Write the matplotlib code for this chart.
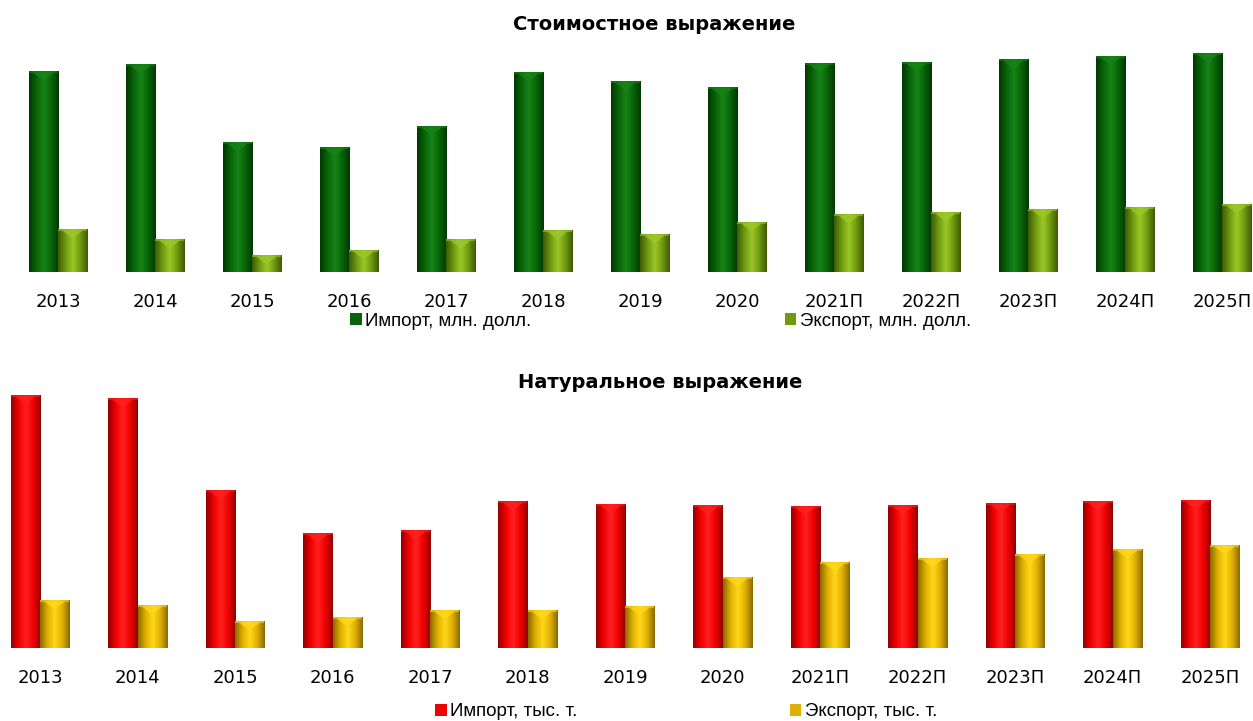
import numpy as np
import matplotlib
matplotlib.use("Agg")
import matplotlib.pyplot as plt
from matplotlib.colors import LinearSegmentedColormap
from matplotlib.patches import Polygon

years = ["2013", "2014", "2015", "2016", "2017", "2018", "2019", "2020",
         "2021П", "2022П", "2023П", "2024П", "2025П"]

# value terms, mln USD (relative scale)
import_value = [201, 208, 130, 125, 146, 200, 191, 185, 209, 210, 213, 216, 219]
export_value = [43, 33, 17, 22, 33, 42, 38, 50, 58, 60, 63, 65, 68]

# physical terms, thousand tonnes (relative scale)
import_volume = [253, 250, 158, 115, 118, 147, 144, 143, 142, 143, 145, 147, 148]
export_volume = [48, 43, 27, 31, 38, 38, 42, 71, 86, 90, 94, 99, 103]

W, H = 1253, 721
fig = plt.figure(figsize=(W / 100, H / 100), dpi=100)

TICK_FONT = ["DejaVu Sans"]
LEGEND_FONT = ["Liberation Sans", "DejaVu Sans"]


def px_axes(left, right, top, bottom):
    return fig.add_axes([left / W, 1 - bottom / H, (right - left) / W, (bottom - top) / H])


def shade_bars(ax, bars, dark, mid, light):
    # fake the 3d bevel: horizontal gradient + light chevron at the top
    cmap = LinearSegmentedColormap.from_list("b", [dark, mid, light, mid, dark])
    grad = np.linspace(0, 1, 64).reshape(1, -1)
    for p in bars:
        x0, w, h = p.get_x(), p.get_width(), p.get_height()
        im = ax.imshow(grad, extent=[x0, x0 + w, 0, h], aspect="auto", cmap=cmap,
                       zorder=2, interpolation="bicubic")
        im.set_clip_path(p)
        d = 8
        chev = Polygon([[x0 + w * 0.15, h - 1.5], [x0 + w * 0.85, h - 1.5],
                        [x0 + w * 0.5, h - 1.5 - d]], closed=True,
                       facecolor=light, alpha=0.8, edgecolor="none", zorder=3)
        ax.add_patch(chev)
        top = Polygon([[x0, h], [x0 + w, h], [x0 + w, h - 2], [x0, h - 2]],
                      facecolor=light, alpha=0.6, edgecolor="none", zorder=3)
        ax.add_patch(top)


def panel(ax, imp, exp, c_imp, c_exp, labels, centre0, step, ymax):
    x = np.arange(len(years))
    b1 = ax.bar(x - 0.15, imp, 0.3, color=c_imp[1], label=labels[0], zorder=1)
    b2 = ax.bar(x + 0.15, exp, 0.3, color=c_exp[1], label=labels[1], zorder=1)
    shade_bars(ax, b1, *c_imp)
    shade_bars(ax, b2, *c_exp)
    ax.set_xlim(-centre0 / step, (W - centre0) / step)
    ax.set_ylim(0, ymax)
    ax.set_xticks(x)
    ax.set_xticklabels(years, fontsize=13, family=TICK_FONT)
    ax.tick_params(axis="x", length=0, pad=15)
    ax.set_yticks([])
    for s in ax.spines.values():
        s.set_visible(False)
    ax.patch.set_alpha(0)
    return b1, b2


green_imp = ("#023802", "#086408", "#178417")
green_exp = ("#3f5a06", "#6f9a10", "#9cc828")
red_imp = ("#900000", "#f00000", "#ff2020")
yel_exp = ("#8a6a00", "#e0b000", "#ffd81a")

ax1 = px_axes(0, W, 40, 272)
b1, b2 = panel(ax1, import_value, export_value, green_imp, green_exp,
               ["Импорт, млн. долл.", "Экспорт, млн. долл."], 58, 97, 232)
ax2 = px_axes(0, W, 390, 648)
b3, b4 = panel(ax2, import_volume, export_volume, red_imp, yel_exp,
               ["Импорт, тыс. т.", "Экспорт, тыс. т."], 40, 97.5, 258)

fig.text(654 / W, 1 - 25 / H, "Стоимостное выражение", ha="center", va="center",
         fontsize=14, fontweight="bold", family=TICK_FONT)
fig.text(660 / W, 1 - 383 / H, "Натуральное выражение", ha="center", va="center",
         fontsize=14, fontweight="bold", family=TICK_FONT)

leg1 = fig.legend([b1, b2], ["Импорт, млн. долл.", "Экспорт, млн. долл."],
                  loc="center left", bbox_to_anchor=(341 / W, 1 - 321 / H), ncol=2,
                  frameon=False, handlelength=0.6, handleheight=0.6, handletextpad=0.2,
                  columnspacing=13.5, borderpad=0, prop={"family": LEGEND_FONT, "size": 13.5})
leg2 = fig.legend([b3, b4], ["Импорт, тыс. т.", "Экспорт, тыс. т."],
                  loc="center left", bbox_to_anchor=(426 / W, 1 - 712 / H), ncol=2,
                  frameon=False, handlelength=0.6, handleheight=0.6, handletextpad=0.2,
                  columnspacing=11.3, borderpad=0, prop={"family": LEGEND_FONT, "size": 13.5})

fig.savefig("out.png", dpi=100)
